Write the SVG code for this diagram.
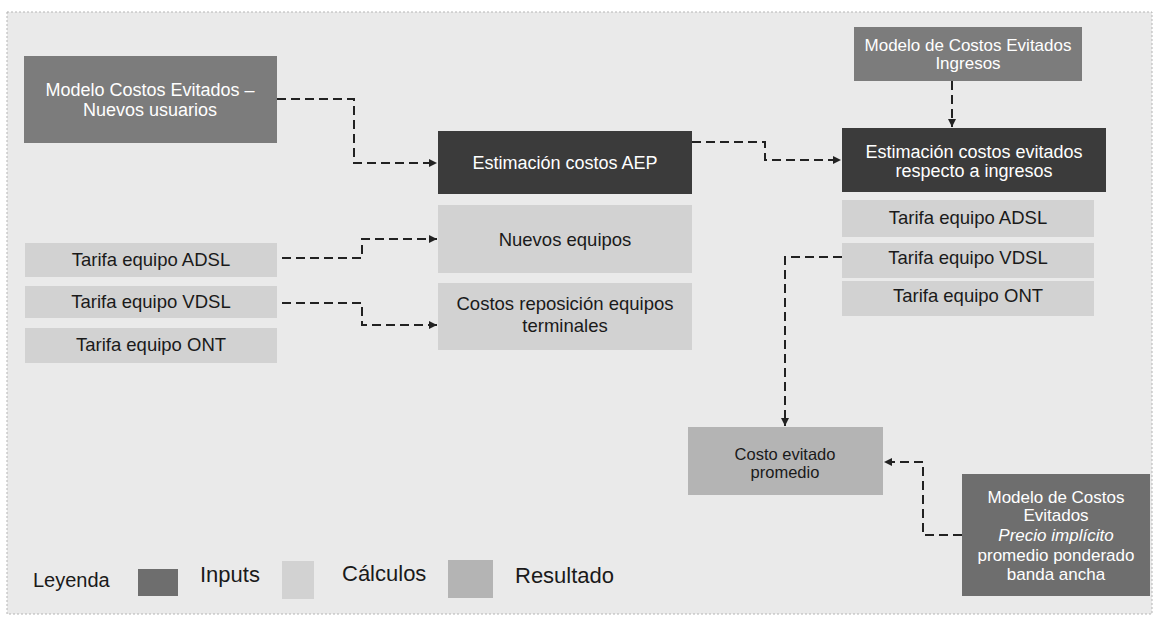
<svg xmlns="http://www.w3.org/2000/svg" width="1159" height="627" viewBox="0 0 1159 627">
<defs>
<style>
.panel{fill:#eaeaea;stroke:#b5b5b5;stroke-width:1;stroke-dasharray:2 2}
.inp{fill:#7c7c7c}
.inp2{fill:#6e6e6e}
.est{fill:#3b3b3b}
.calc{fill:#d2d2d2}
.res{fill:#b4b4b4}
text{font-family:"Liberation Sans",Arial,sans-serif;text-anchor:middle}
.w{fill:#ffffff}
.k{fill:#1a1a1a}
.conn{fill:none;stroke:#222222;stroke-width:2;stroke-dasharray:9 5}
.leg{text-anchor:start;fill:#1a1a1a}
</style>
<marker id="ah" viewBox="0 0 10 10" refX="10" refY="5" markerWidth="9" markerHeight="8" markerUnits="userSpaceOnUse" orient="auto">
<path d="M0,0 L10,5 L0,10 z" fill="#222222"/>
</marker>
</defs>
<rect x="0" y="0" width="1159" height="627" fill="#ffffff"/>
<rect class="panel" x="7" y="12" width="1145" height="602"/>

<g id="connectors">
<path class="conn" d="M277,99 H354 V163 H437" marker-end="url(#ah)"/>
<path class="conn" d="M282,258 H362 V239 H437" marker-end="url(#ah)"/>
<path class="conn" d="M282,303 H362 V325 H437" marker-end="url(#ah)"/>
<path class="conn" d="M692,142 H765 V160 H841" marker-end="url(#ah)"/>
<path class="conn" d="M952,81 V127" marker-end="url(#ah)"/>
<path class="conn" d="M842,257 H785 V426" marker-end="url(#ah)"/>
<path class="conn" d="M962,535 H923 V462 H884" marker-end="url(#ah)"/>
</g>

<g id="modelo-nuevos-usuarios">
<rect class="inp" x="24" y="56" width="253" height="87"/>
<text class="w" x="150" y="96" font-size="18">Modelo Costos Evitados –</text>
<text class="w" x="150" y="116" font-size="18">Nuevos usuarios</text>
</g>
<g id="estimacion-aep">
<rect class="est" x="438" y="131" width="254" height="63"/>
<text class="w" x="565" y="169" font-size="18">Estimación costos AEP</text>
</g>
<g id="nuevos-equipos">
<rect class="calc" x="438" y="205" width="254" height="68"/>
<text class="k" x="565" y="246" font-size="18.5">Nuevos equipos</text>
</g>
<g id="costos-reposicion">
<rect class="calc" x="438" y="283" width="254" height="67"/>
<text class="k" x="565" y="310" font-size="18.5">Costos reposición equipos</text>
<text class="k" x="565" y="332" font-size="18.5">terminales</text>
</g>
<g id="tarifa-adsl-1">
<rect class="calc" x="25" y="243" width="252" height="34"/>
<text class="k" x="151" y="266" font-size="18.5">Tarifa equipo ADSL</text>
</g>
<g id="tarifa-vdsl-1">
<rect class="calc" x="25" y="286" width="252" height="32"/>
<text class="k" x="151" y="308" font-size="18.5">Tarifa equipo VDSL</text>
</g>
<g id="tarifa-ont-1">
<rect class="calc" x="25" y="328" width="252" height="35"/>
<text class="k" x="151" y="351" font-size="18.5">Tarifa equipo ONT</text>
</g>

<g id="modelo-ingresos">
<rect class="inp" x="854" y="27" width="228" height="54"/>
<text class="w" x="968" y="51" font-size="17">Modelo de Costos Evitados</text>
<text class="w" x="968" y="69" font-size="17">Ingresos</text>
</g>
<g id="estimacion-ingresos">
<rect class="est" x="842" y="128" width="264" height="64"/>
<text class="w" x="974" y="158" font-size="18">Estimación costos evitados</text>
<text class="w" x="974" y="177" font-size="18">respecto a ingresos</text>
</g>
<g id="tarifa-adsl-2">
<rect class="calc" x="842" y="200" width="252" height="37"/>
<text class="k" x="968" y="224" font-size="18.5">Tarifa equipo ADSL</text>
</g>
<g id="tarifa-vdsl-2">
<rect class="calc" x="842" y="243" width="252" height="35"/>
<text class="k" x="968" y="264" font-size="18.5">Tarifa equipo VDSL</text>
</g>
<g id="tarifa-ont-2">
<rect class="calc" x="842" y="281" width="252" height="35"/>
<text class="k" x="968" y="302" font-size="18.5">Tarifa equipo ONT</text>
</g>
<g id="costo-evitado-promedio">
<rect class="res" x="688" y="427" width="195" height="68"/>
<text class="k" x="785" y="460" font-size="16.5">Costo evitado</text>
<text class="k" x="785" y="478" font-size="16.5">promedio</text>
</g>
<g id="modelo-precio">
<rect class="inp2" x="962" y="474" width="188" height="122"/>
<text class="w" x="1056" y="503" font-size="17">Modelo de Costos</text>
<text class="w" x="1056" y="521" font-size="17">Evitados</text>
<text class="w" x="1056" y="541" font-size="17" font-style="italic">Precio implícito</text>
<text class="w" x="1056" y="561" font-size="17">promedio ponderado</text>
<text class="w" x="1056" y="580" font-size="17">banda ancha</text>
</g>

<g id="legend">
<text class="leg" x="33" y="587" font-size="20">Leyenda</text>
<rect class="inp2" x="138" y="569" width="40" height="27"/>
<text class="leg" x="200" y="582" font-size="22">Inputs</text>
<rect class="calc" x="282" y="561" width="32" height="38"/>
<text class="leg" x="342" y="581" font-size="22">Cálculos</text>
<rect class="res" x="448" y="560" width="45" height="38"/>
<text class="leg" x="515" y="583" font-size="22">Resultado</text>
</g>
</svg>
